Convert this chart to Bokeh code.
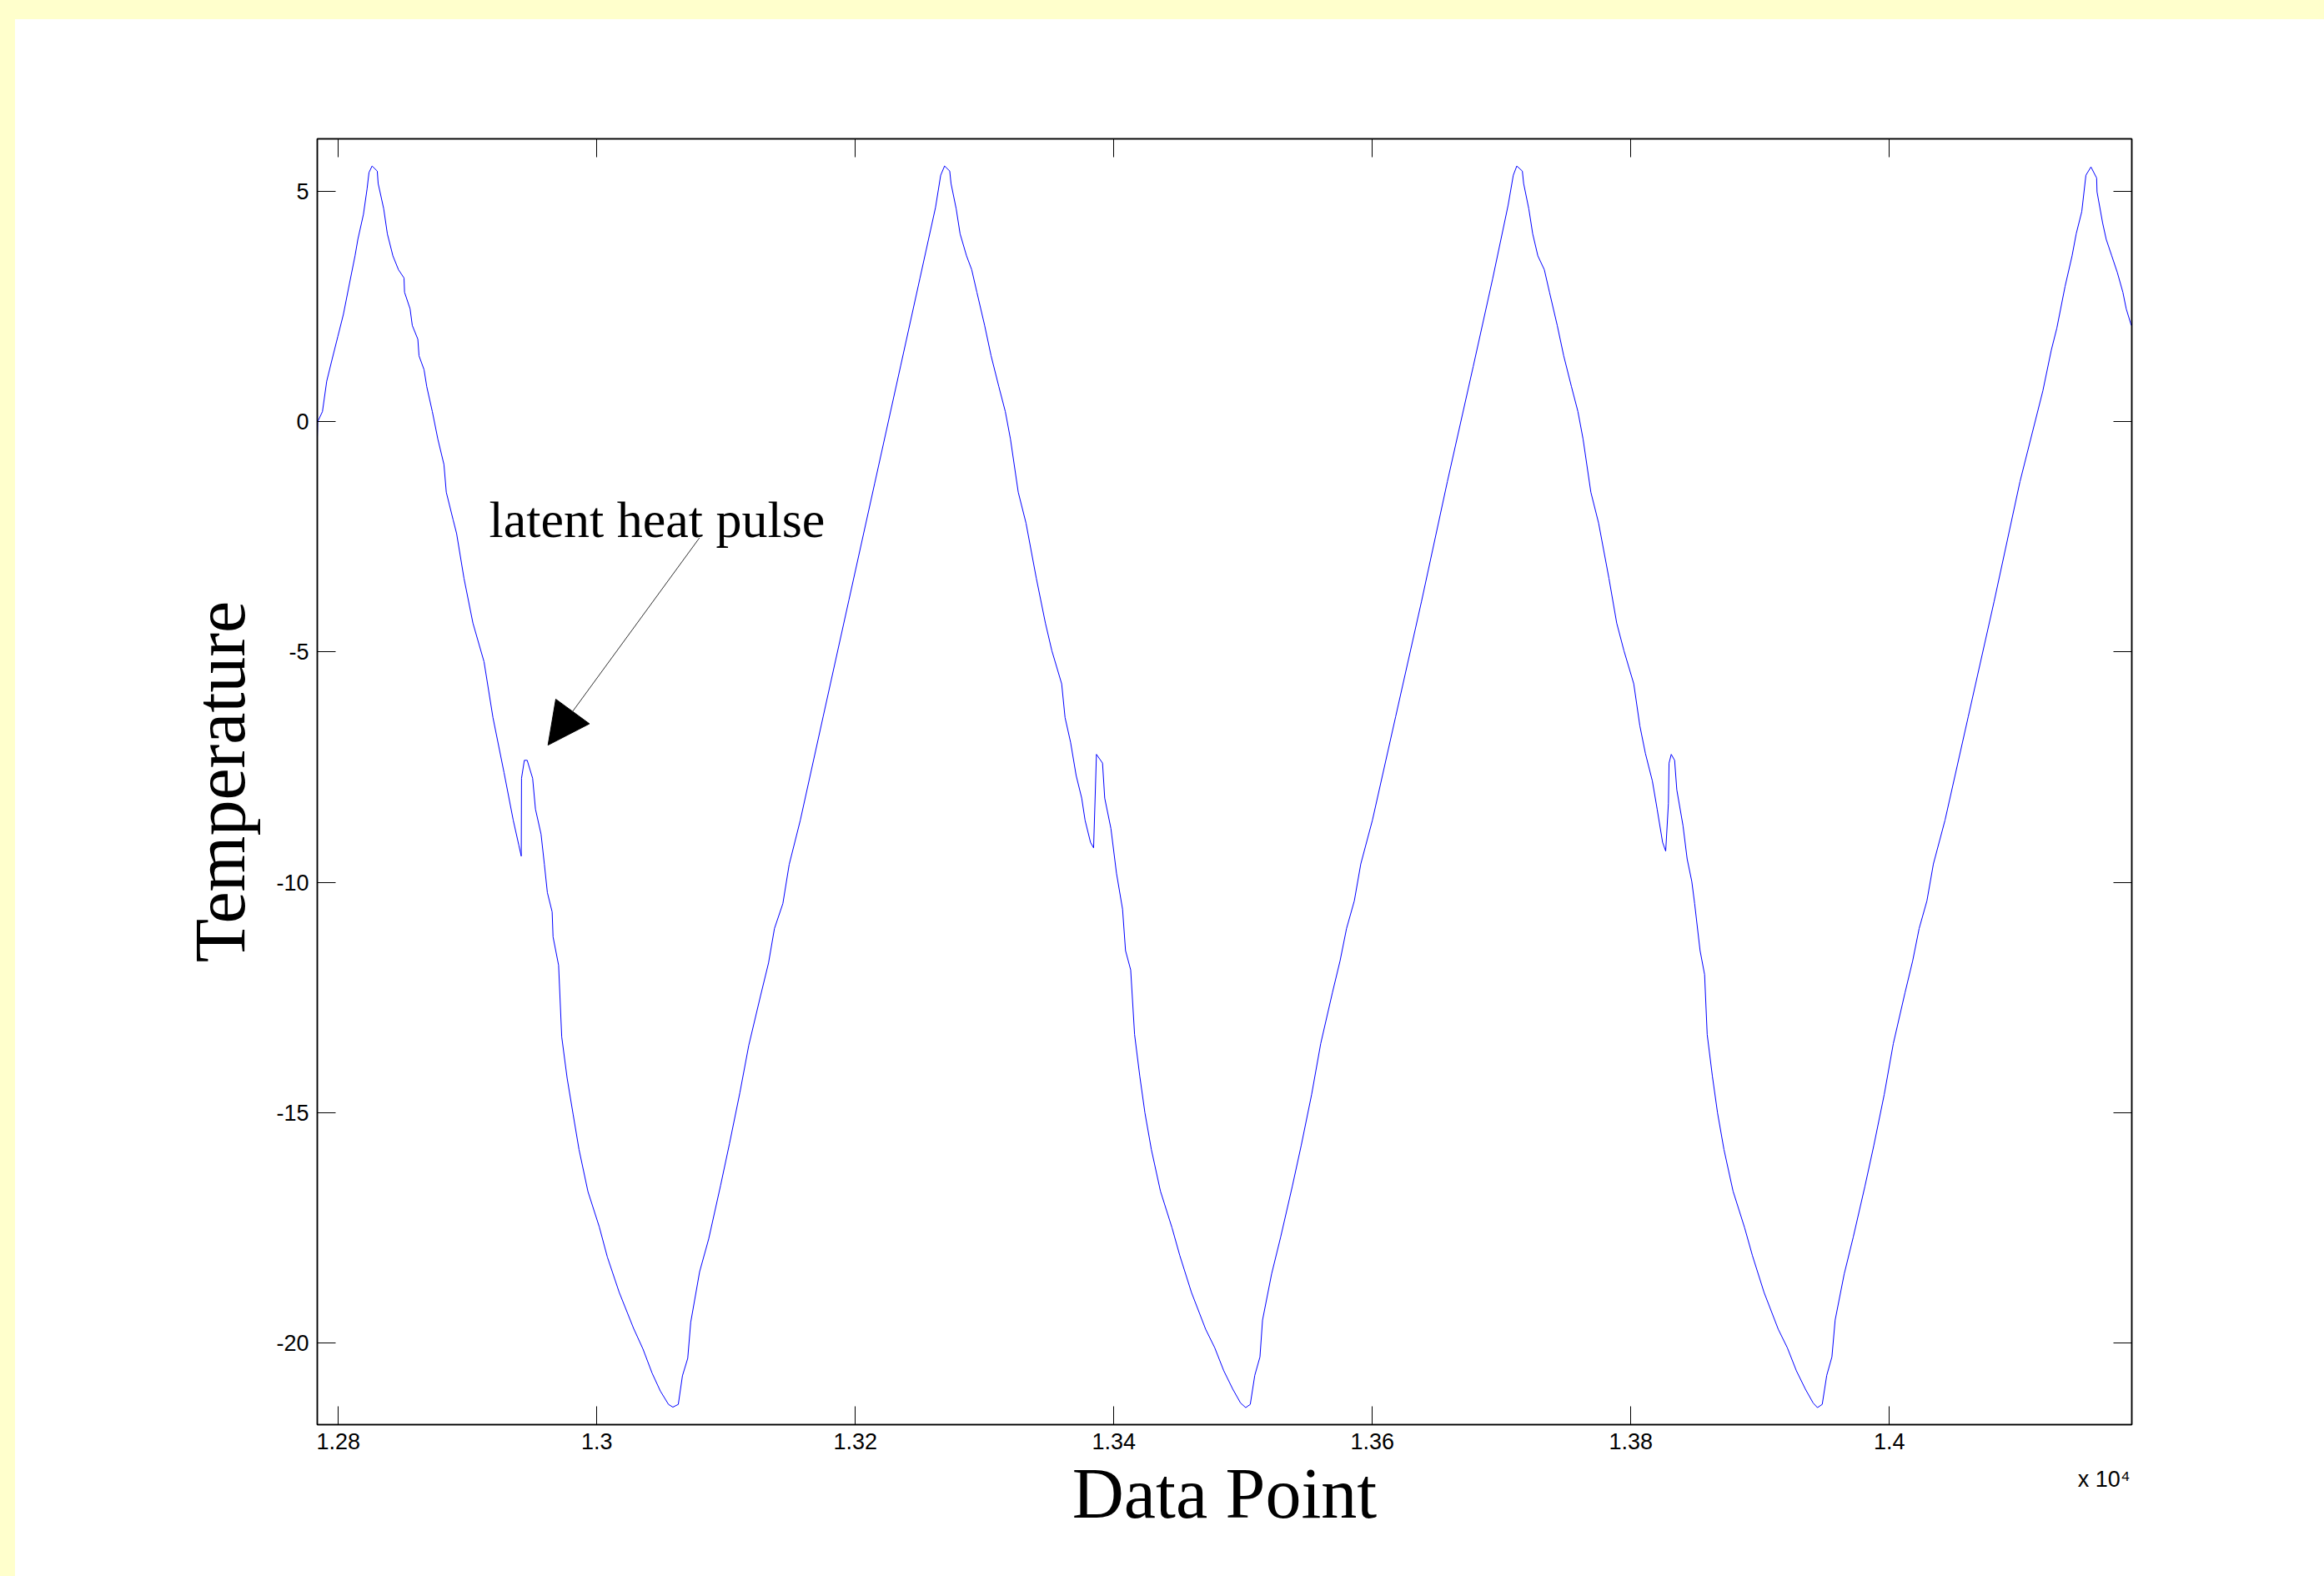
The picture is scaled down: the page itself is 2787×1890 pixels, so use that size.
from bokeh.plotting import figure
from bokeh.models import Range1d, LinearAxis, FixedTicker, Arrow, NormalHead, Label
from bokeh.embed import file_html
from bokeh.resources import INLINE

# ---- data ----
data_point = [
    12783.7, 12784.0, 12787.7, 12791.0, 12795.3, 12799.6, 12803.9, 12808.6, 12812.9, 12815.1,
    12819.4, 12822.2, 12823.7, 12826.1, 12830.1, 12830.8, 12835.1, 12837.9, 12842.2, 12846.5,
    12850.8, 12851.2, 12855.5, 12857.2, 12861.5, 12862.4, 12866.3, 12868.4, 12872.7, 12877.0,
    12881.7, 12883.5, 12888.8, 12891.5, 12897.2, 12904.1, 12912.7, 12919.6, 12928.2, 12935.3,
    12939.6, 12941.5, 12941.7, 12943.9, 12946.1, 12950.3, 12952.5, 12956.8, 12959.4, 12961.7,
    12965.4, 12966.1, 12970.4, 12972.8, 12977.0, 12981.6, 12986.2, 12993.1, 13001.9, 13008.1,
    13017.3, 13028.4, 13035.7, 13042.7, 13049.1, 13055.4, 13058.8, 13063.0, 13066.2, 13070.3,
    13072.6, 13079.5, 13086.5, 13095.7, 13102.6, 13110.6, 13117.5, 13126.8, 13132.8, 13137.4,
    13143.9, 13148.8, 13157.4, 13175.0, 13195.0, 13215.0, 13235.0, 13250.0, 13262.0, 13266.0,
    13269.0,
    13273.0, 13274.0, 13278.0, 13281.0, 13286.0, 13290.0, 13294.0, 13300.0, 13305.0, 13311.0,
    13316.0, 13320.0, 13326.0, 13332.0, 13340.0, 13347.0, 13352.0, 13359.6, 13362.2, 13366.5,
    13370.8, 13375.1, 13377.7, 13381.9, 13384.3, 13386.5, 13391.2, 13392.9, 13397.7, 13402.0,
    13406.7, 13409.0, 13413.0, 13416.0, 13420.0, 13424.0, 13429.0, 13436.0, 13445.0, 13451.0,
    13460.0, 13471.0, 13478.0, 13485.0, 13492.0, 13498.0, 13502.0, 13505.5, 13509.0, 13513.0,
    13515.0, 13522.0, 13529.0, 13538.0, 13545.0, 13553.0, 13560.0, 13569.0, 13575.0, 13580.0,
    13586.0, 13591.0, 13600.0, 13618.0, 13638.0, 13658.0, 13678.0, 13693.0, 13705.0, 13709.0,
    13711.7,
    13716.0, 13717.0, 13721.0, 13724.0, 13728.0, 13733.0, 13737.0, 13743.0, 13748.0, 13754.0,
    13759.0, 13763.0, 13769.0, 13775.0, 13783.0, 13789.0, 13794.6, 13802.2, 13806.9, 13811.2,
    13816.6, 13820.3, 13824.5, 13826.9, 13829.0, 13829.5, 13831.2, 13833.8, 13835.5, 13840.3,
    13843.5, 13847.1, 13849.3, 13853.5, 13857.0, 13859.0, 13863.0, 13867.0, 13872.0, 13879.0,
    13888.0, 13894.0, 13903.0, 13914.0, 13921.0, 13928.0, 13935.0, 13941.0, 13944.3, 13948.0,
    13951.5, 13955.5, 13958.0, 13965.0, 13972.0, 13981.0, 13988.0, 13996.0, 14003.0, 14012.0,
    14018.0, 14023.0, 14029.0, 14034.0, 14043.0, 14061.0, 14081.0, 14101.0, 14118.7, 14125.2,
    14129.5, 14135.9, 14141.3, 14144.5, 14148.8, 14152.0, 14155.9, 14160.3, 14160.6, 14164.9,
    14167.7, 14172.0, 14176.3, 14180.6, 14183.2, 14187.1,
]
temperature = [
    -0.35, 0.00, 0.22, 0.88, 1.37, 1.85, 2.33, 3.00, 3.60, 3.96,
    4.50, 5.05, 5.41, 5.55, 5.44, 5.17, 4.62, 4.08, 3.60, 3.30,
    3.12, 2.81, 2.45, 2.09, 1.79, 1.43, 1.13, 0.76, 0.22, -0.38,
    -0.93, -1.53, -2.13, -2.43, -3.40, -4.37, -5.21, -6.42, -7.62, -8.65,
    -9.19, -9.43, -7.74, -7.35, -7.35, -7.74, -8.41, -8.95, -9.61, -10.22,
    -10.64, -11.18, -11.80, -13.35, -14.25, -15.03, -15.80, -16.71, -17.48, -18.13,
    -18.90, -19.68, -20.13, -20.65, -21.04, -21.33, -21.39, -21.33, -20.71, -20.33,
    -19.55, -18.45, -17.74, -16.58, -15.67, -14.57, -13.54, -12.44, -11.75, -11.00,
    -10.46, -9.61, -8.65, -6.41, -3.87, -1.33, 1.21, 3.12, 4.65, 5.35,
    5.55,
    5.44, 5.17, 4.62, 4.08, 3.60, 3.30, 2.81, 2.09, 1.43, 0.76,
    0.22, -0.38, -1.53, -2.20, -3.40, -4.37, -4.97, -5.69, -6.42, -6.96,
    -7.68, -8.17, -8.65, -9.13, -9.25, -7.22, -7.41, -8.17, -8.83, -9.80,
    -10.58, -11.48, -11.90, -13.30, -14.20, -15.00, -15.80, -16.70, -17.50, -18.10,
    -18.90, -19.70, -20.10, -20.60, -21.00, -21.30, -21.40, -21.33, -20.70, -20.30,
    -19.50, -18.50, -17.70, -16.60, -15.70, -14.60, -13.50, -12.40, -11.70, -11.00,
    -10.40, -9.60, -8.65, -6.40, -3.90, -1.30, 1.20, 3.10, 4.70, 5.35,
    5.55,
    5.44, 5.17, 4.62, 4.08, 3.60, 3.30, 2.81, 2.09, 1.43, 0.76,
    0.22, -0.38, -1.53, -2.20, -3.40, -4.37, -4.97, -5.69, -6.60, -7.20,
    -7.80, -8.41, -9.13, -9.32, -8.29, -7.41, -7.22, -7.35, -7.99, -8.77,
    -9.49, -9.98, -10.46, -11.48, -12.00, -13.30, -14.20, -15.00, -15.80, -16.70,
    -17.50, -18.10, -18.90, -19.70, -20.10, -20.60, -21.00, -21.30, -21.40, -21.33,
    -20.70, -20.30, -19.50, -18.50, -17.70, -16.60, -15.70, -14.60, -13.50, -12.40,
    -11.70, -11.00, -10.40, -9.60, -8.65, -6.40, -3.90, -1.30, 0.67, 1.55,
    2.03, 2.94, 3.60, 4.08, 4.56, 5.35, 5.53, 5.29, 4.99, 4.32,
    3.96, 3.60, 3.24, 2.81, 2.45, 2.09,
]
x_ticks = [12800, 13000, 13200, 13400, 13600, 13800, 14000]
x_tick_labels = ["1.28", "1.3", "1.32", "1.34", "1.36", "1.38", "1.4"]
y_ticks = [-20, -15, -10, -5, 0, 5]
y_tick_labels = ["-20", "-15", "-10", "-5", "0", "5"]
x_limits = (12783.7, 14187.5)
y_limits = (-21.77, 6.14)
x_exponent_label = "x 10\u2074"
x_exponent_at = 14166

annotation_text = "latent heat pulse"
annotation_pos = (12916.6, -2.13)
arrow_start = (13079.4, -2.52)
arrow_tip = (12962.2, -7.02)

p = figure(
    width=2787, height=1890,
    x_range=Range1d(*x_limits), y_range=Range1d(*y_limits),
    output_backend="svg", toolbar_location=None,
    x_axis_location=None, y_axis_location=None,
    min_border_left=380, min_border_right=231,
    min_border_top=166, min_border_bottom=182,
    background_fill_color="white", border_fill_color="white",
)
p.outline_line_color = "black"
p.outline_line_width = 1.5
p.grid.grid_line_color = None


def style_axis(ax, show_labels):
    ax.axis_line_color = "black"
    ax.axis_line_width = 1.5
    ax.major_tick_in = 22
    ax.major_tick_out = 0
    ax.major_tick_line_color = "black"
    ax.major_tick_line_width = 1
    ax.minor_tick_line_color = None
    ax.major_label_text_font = "Liberation Sans"
    ax.major_label_text_font_size = "27px"
    ax.major_label_text_color = "black" if show_labels else None
    ax.major_label_standoff = 10
    ax.axis_label_text_font = "Liberation Serif"
    ax.axis_label_text_font_size = "86px"
    ax.axis_label_text_font_style = "normal"
    ax.axis_label_text_color = "black"


x_overrides = {t: l for t, l in zip(x_ticks, x_tick_labels)}
y_overrides = {t: l for t, l in zip(y_ticks, y_tick_labels)}

# main bottom axis: ticks + tick labels
xb = LinearAxis(ticker=FixedTicker(ticks=x_ticks), major_label_overrides=x_overrides)
style_axis(xb, True)
p.add_layout(xb, "below")

# second bottom row: exponent note + axis title
xe = LinearAxis(ticker=FixedTicker(ticks=[x_exponent_at]),
                major_label_overrides={x_exponent_at: x_exponent_label},
                axis_label="Data Point")
style_axis(xe, True)
xe.axis_line_color = None
xe.major_tick_line_color = None
xe.major_tick_in = 0
xe.major_label_text_font_size = "27px"
xe.major_label_standoff = 18
xe.axis_label_standoff = -49
p.add_layout(xe, "below")

xt = LinearAxis(ticker=FixedTicker(ticks=x_ticks))
style_axis(xt, False)
p.add_layout(xt, "above")

yl = LinearAxis(ticker=FixedTicker(ticks=y_ticks), major_label_overrides=y_overrides,
                axis_label="Temperature")
style_axis(yl, True)
yl.axis_label_standoff = 16
p.add_layout(yl, "left")

yr = LinearAxis(ticker=FixedTicker(ticks=y_ticks))
style_axis(yr, False)
p.add_layout(yr, "right")

p.line(data_point, temperature, line_color="#0000FF", line_width=1)

p.add_layout(Label(x=annotation_pos[0], y=annotation_pos[1], text=annotation_text,
                   text_font="Liberation Serif", text_font_size="62px",
                   text_color="black", text_align="left", text_baseline="alphabetic"))

p.add_layout(Arrow(x_start=arrow_start[0], y_start=arrow_start[1],
                   x_end=arrow_tip[0], y_end=arrow_tip[1],
                   line_color="#333333", line_width=1,
                   end=NormalHead(size=50, fill_color="black", line_color="black", line_width=1)))

html = file_html(p, INLINE)
css = ("<style>\n"
       "html, body {margin:0; padding:0; overflow:hidden; background:#FFFFFF;}\n"
       "body::before {content:''; position:fixed; left:0; top:0; width:100%; height:23px;"
       " background:#FFFFCC; z-index:1000; pointer-events:none;}\n"
       "body::after {content:''; position:fixed; left:0; top:0; width:18px; height:100%;"
       " background:#FFFFCC; z-index:1000; pointer-events:none;}\n"
       "</style>\n")
html = html.replace("</head>", css + "</head>", 1)
open("out.html", "w").write(html)
